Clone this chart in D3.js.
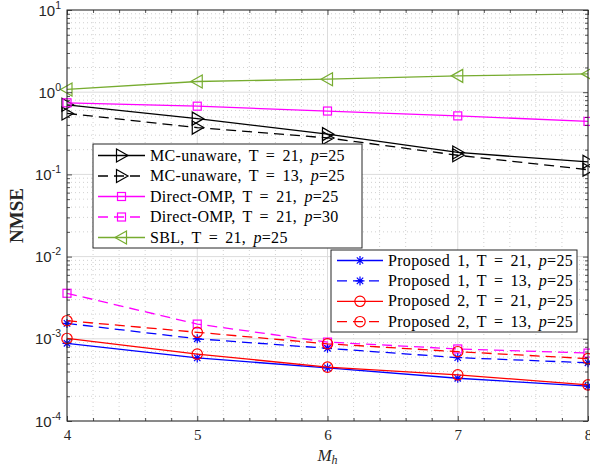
<!DOCTYPE html>
<html>
<head>
<meta charset="utf-8">
<script src="https://cdn.jsdelivr.net/npm/d3@7"></script>
<style>
  html, body { margin: 0; padding: 0; background: #fff; }
  svg { display: block; font-family: "Liberation Serif", "Times New Roman", serif; }
</style>
</head>
<body>
<svg id="chart" width="590" height="467"></svg>
<script>
// ---- data ----
const xVals = [4, 5, 6, 7, 8];
const xTickLabels = ["4", "5", "6", "7", "8"];
const yTickExps = [-4, -3, -2, -1, 0, 1];
const mcUnaware21 = [0.703, 0.477, 0.309, 0.185, 0.142];
const mcUnaware13 = [0.552, 0.371, 0.278, 0.171, 0.114];
const directOmp25 = [0.743, 0.676, 0.590, 0.515, 0.441];
const directOmp30 = [3.58e-3, 1.51e-3, 0.912e-3, 0.752e-3, 0.670e-3];
const sbl25 = [1.08, 1.35, 1.44, 1.58, 1.67];
const prop1T21 = [0.881e-3, 0.586e-3, 0.443e-3, 0.331e-3, 0.265e-3];
const prop1T13 = [1.54e-3, 1.00e-3, 0.766e-3, 0.590e-3, 0.511e-3];
const prop2T21 = [1.01e-3, 0.652e-3, 0.452e-3, 0.365e-3, 0.275e-3];
const prop2T13 = [1.66e-3, 1.20e-3, 0.869e-3, 0.697e-3, 0.574e-3];
const legend1Labels = [
  ["MC-unaware, T = 21, ", "25"],
  ["MC-unaware, T = 13, ", "25"],
  ["Direct-OMP, T = 21, ", "25"],
  ["Direct-OMP, T = 21, ", "30"],
  ["SBL, T = 21, ", "25"]
];
const legend2Labels = [
  ["Proposed 1, T = 21, ", "25"],
  ["Proposed 1, T = 13, ", "25"],
  ["Proposed 2, T = 21, ", "25"],
  ["Proposed 2, T = 13, ", "25"]
];

// ---- layout ----
const L = 67, R = 588, T = 10, B = 421;
const svg = d3.select("#chart");
const x = d3.scaleLinear().domain([4, 8]).range([L, R]);
const y = d3.scaleLog().domain([1e-4, 10]).range([B, T]);
const axisColor = "#262626";

const series = [
  { vals: mcUnaware21, color: "#000000", dash: null, marker: "triR" },
  { vals: mcUnaware13, color: "#000000", dash: "10,6", marker: "triR" },
  { vals: directOmp25, color: "#ff00ff", dash: null, marker: "square" },
  { vals: directOmp30, color: "#ff00ff", dash: "10,6", marker: "square" },
  { vals: sbl25, color: "#77ac30", dash: null, marker: "triL" },
  { vals: prop1T21, color: "#0000ff", dash: null, marker: "star" },
  { vals: prop1T13, color: "#0000ff", dash: "10,6", marker: "star" },
  { vals: prop2T21, color: "#ff0000", dash: null, marker: "circle" },
  { vals: prop2T13, color: "#ff0000", dash: "10,6", marker: "circle" }
];

// minor tick values
const yMinor = [];
for (let e = -4; e < 1; e++) for (let m = 2; m <= 9; m++) yMinor.push(m * Math.pow(10, e));
const xMinor = [];
for (let v = 4; v < 8; v++) for (let k = 1; k <= 4; k++) xMinor.push(v + k * 0.2);
const yMajor = yTickExps.map(e => Math.pow(10, e));

// ---- grid ----
const grid = svg.append("g");
grid.selectAll(".gyMinor").data(yMinor).enter().append("line")
  .attr("x1", L).attr("x2", R).attr("y1", d => y(d)).attr("y2", d => y(d))
  .attr("stroke", "#c4c4c4").attr("stroke-width", 0.8).attr("stroke-dasharray", "1,3");
grid.selectAll(".gxMinor").data(xMinor).enter().append("line")
  .attr("y1", T).attr("y2", B).attr("x1", d => x(d)).attr("x2", d => x(d))
  .attr("stroke", "#c4c4c4").attr("stroke-width", 0.8).attr("stroke-dasharray", "1,3");
grid.selectAll(".gyMajor").data(yMajor).enter().append("line")
  .attr("x1", L).attr("x2", R).attr("y1", d => y(d)).attr("y2", d => y(d))
  .attr("stroke", "#dcdcdc").attr("stroke-width", 1);
grid.selectAll(".gxMajor").data(xVals).enter().append("line")
  .attr("y1", T).attr("y2", B).attr("x1", d => x(d)).attr("x2", d => x(d))
  .attr("stroke", "#dcdcdc").attr("stroke-width", 1);

// ---- markers ----
function marker(g, type, color) {
  if (type === "triR") {
    g.append("path").attr("d", "M-5,-6.5L6.5,0L-5,6.5Z");
  } else if (type === "triL") {
    g.append("path").attr("d", "M5,-6.5L-6.5,0L5,6.5Z");
  } else if (type === "square") {
    g.append("rect").attr("x", -4).attr("y", -4).attr("width", 8).attr("height", 8);
  } else if (type === "circle") {
    g.append("circle").attr("r", 5.2);
  } else if (type === "star") {
    g.append("path").attr("d", "M0,-4.5V4.5M-4.5,0H4.5M-3.2,-3.2L3.2,3.2M-3.2,3.2L3.2,-3.2");
  }
  g.selectAll("*").attr("fill", "none").attr("stroke", color).attr("stroke-width", 1.2);
}

// ---- plot lines ----
const plot = svg.append("g");
const line = d3.line().x((d, i) => x(xVals[i])).y(d => y(d));
series.forEach(s => {
  plot.append("path").datum(s.vals).attr("d", line)
    .attr("fill", "none").attr("stroke", s.color).attr("stroke-width", 1.3)
    .attr("stroke-dasharray", s.dash);
  s.vals.forEach((v, i) => {
    const g = plot.append("g").attr("transform", `translate(${x(xVals[i])},${y(v)})`);
    marker(g, s.marker, s.color);
  });
});

// ---- axes ----
function styleAxis(g) {
  g.select(".domain").remove();
  g.selectAll(".tick line").attr("stroke", axisColor).attr("stroke-width", 0.8);
}
svg.append("g").attr("transform", `translate(${L},0)`)
  .call(d3.axisLeft(y).tickValues(yMinor).tickSize(-3).tickFormat("")).call(styleAxis);
svg.append("g").attr("transform", `translate(${R},0)`)
  .call(d3.axisRight(y).tickValues(yMinor).tickSize(-3).tickFormat("")).call(styleAxis);
svg.append("g").attr("transform", `translate(0,${B})`)
  .call(d3.axisBottom(x).tickValues(xMinor).tickSize(-3).tickFormat("")).call(styleAxis);
svg.append("g").attr("transform", `translate(0,${T})`)
  .call(d3.axisTop(x).tickValues(xMinor).tickSize(-3).tickFormat("")).call(styleAxis);

const yAxisL = svg.append("g").attr("transform", `translate(${L},0)`)
  .call(d3.axisLeft(y).tickValues(yMajor).tickSize(-5).tickPadding(6).tickFormat(""));
styleAxis(yAxisL);
yAxisL.selectAll(".tick text").remove();
yAxisL.selectAll(".tick").each(function(d, i) {
  const t = d3.select(this).append("text")
    .attr("x", -6).attr("y", 5).attr("text-anchor", "end")
    .attr("fill", axisColor).attr("font-size", 15);
  t.append("tspan").text("10");
  t.append("tspan").attr("dy", -7).attr("font-size", 10.5).text(String(yTickExps[i]));
});
svg.append("g").attr("transform", `translate(${R},0)`)
  .call(d3.axisRight(y).tickValues(yMajor).tickSize(-5).tickFormat("")).call(styleAxis);

const xAxisB = svg.append("g").attr("transform", `translate(0,${B})`)
  .call(d3.axisBottom(x).tickValues(xVals).tickSize(-5).tickPadding(8)
    .tickFormat((d, i) => xTickLabels[i]));
styleAxis(xAxisB);
xAxisB.selectAll(".tick text").attr("y", 19).attr("dy", 0)
  .attr("font-size", 15).attr("fill", axisColor).attr("font-family", "Liberation Serif");
svg.append("g").attr("transform", `translate(0,${T})`)
  .call(d3.axisTop(x).tickValues(xVals).tickSize(-5).tickFormat("")).call(styleAxis);

// box
svg.append("rect").attr("x", L).attr("y", T).attr("width", R - L).attr("height", B - T)
  .attr("fill", "none").attr("stroke", axisColor).attr("stroke-width", 1);

// axis labels
const xl = svg.append("text").attr("x", (L + R) / 2).attr("y", 461)
  .attr("text-anchor", "middle").attr("font-size", 17).attr("fill", axisColor);
xl.append("tspan").attr("font-style", "italic").text("M");
xl.append("tspan").attr("font-style", "italic").attr("font-size", 12).attr("dy", 3).text("h");
svg.append("text").attr("transform", `translate(23,${(T + B) / 2}) rotate(-90)`)
  .attr("text-anchor", "middle").attr("font-size", 19).attr("font-weight", "bold")
  .attr("fill", axisColor).text("NMSE");

// ---- legends ----
function legend(box, labels, items, rowStart, rowStep, lineX1, lineX2, textX) {
  svg.append("rect").attr("x", box[0]).attr("y", box[1]).attr("width", box[2]).attr("height", box[3])
    .attr("fill", "#fff").attr("stroke", axisColor).attr("stroke-width", 1);
  labels.forEach((lab, i) => {
    const s = items[i];
    const yy = rowStart + i * rowStep;
    svg.append("line").attr("x1", lineX1).attr("x2", lineX2).attr("y1", yy).attr("y2", yy)
      .attr("stroke", s.color).attr("stroke-width", 1.3).attr("stroke-dasharray", s.dash);
    const g = svg.append("g").attr("transform", `translate(${(lineX1 + lineX2) / 2},${yy})`);
    marker(g, s.marker, s.color);
    const t = svg.append("text").attr("x", textX).attr("y", yy + 5)
      .attr("font-size", 16).attr("fill", "#000")
      .attr("letter-spacing", 0.3).attr("word-spacing", 3);
    t.append("tspan").text(lab[0]);
    t.append("tspan").attr("font-style", "italic").text("p");
    t.append("tspan").text("=" + lab[1]);
  });
}
legend([93, 144, 269, 104], legend1Labels, series.slice(0, 5), 155.5, 20.5, 98, 145, 150);
legend([331, 250, 246, 82], legend2Labels, series.slice(5), 260.5, 20.4, 337, 383, 388);
</script>
</body>
</html>
